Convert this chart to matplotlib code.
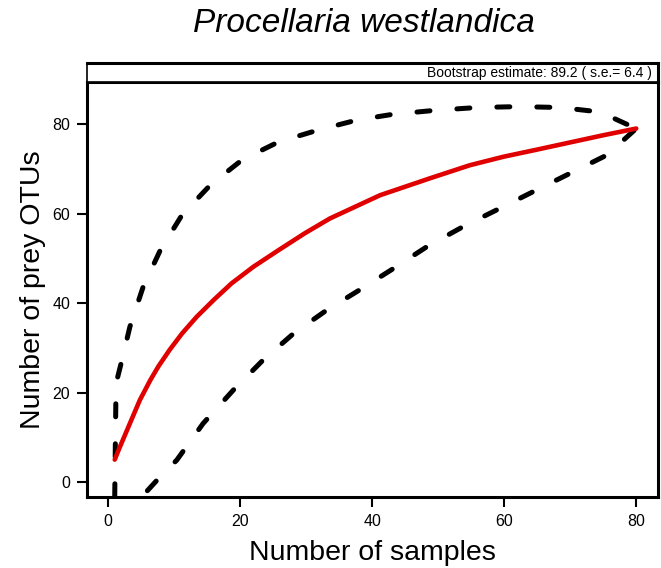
import matplotlib
matplotlib.use('Agg')
import matplotlib.pyplot as plt

plt.rcParams['font.family'] = ['Liberation Sans', 'DejaVu Sans']

samples_mean = [1, 1.8, 3.3, 4.8, 6.4, 7.6, 9.3, 11.2, 13.4, 16, 18.7, 22,
                25.8, 29.8, 33.6, 41.2, 48.8, 54.8, 59.9, 65, 70, 75, 80]
otus_mean = [5, 7.9, 13.1, 18.3, 22.8, 25.8, 29.5, 33.2, 36.9, 40.7, 44.4,
             48.1, 51.8, 55.6, 58.9, 64.1, 67.9, 70.8, 72.7, 74.3, 75.9, 77.5, 79]

# Upper confidence bound
samples_upper = [1, 1.2, 2.1, 3.3, 5.3, 7.9, 11.2, 15.5, 20.3, 25.8, 31.9, 37.7,
                 43.2, 49.8, 55.9, 62.2, 68.5, 74.5, 80]
otus_upper = [-3.3, 22, 27.3, 34.7, 43.6, 51.8, 59.7, 66.4, 72, 76, 78.7, 80.9,
              82.2, 83.1, 83.7, 83.9, 83.7, 82.7, 79]

# Lower confidence bound
samples_lower = [1, 5, 5.6, 7.4, 10.4, 14.4, 19, 23.5, 28.1, 33.1, 38.5, 43.2,
                 48.3, 53.8, 59.4, 64.4, 70, 75.6, 80]
otus_lower = [-4.6, -4.6, -2.5, 0.4, 4.9, 13.1, 20.6, 27.3, 33.2, 38.4, 43.3, 47.7,
              52.6, 57.1, 61.2, 64.9, 69, 73.1, 79]

x_ticks = [0, 20, 40, 60, 80]
y_ticks = [0, 20, 40, 60, 80]

title = 'Procellaria westlandica'
strip_text = 'Bootstrap estimate: 89.2 ( s.e.= 6.4 )'

fig = plt.figure(figsize=(6.61, 5.68), dpi=100)
ax = fig.add_axes([87 / 661, 71 / 568, 571 / 661, 415 / 568])
strip = fig.add_axes([87 / 661, 486 / 568, 571 / 661, 19 / 568])

dash_kw = dict(color='black', linewidth=3.6, dashes=(2.6, 5.4),
               dash_capstyle='round', solid_capstyle='round')
ax.plot(samples_upper, otus_upper, **dash_kw)
ax.plot(samples_lower, otus_lower, **dash_kw)
ax.plot(samples_mean, otus_mean, color='#E00000', linewidth=3.3,
        solid_capstyle='round', solid_joinstyle='round')

ax.set_xlim(-3.2, 83.3)
ax.set_ylim(-3.35, 89.4)
ax.set_xticks(x_ticks)
ax.set_yticks(y_ticks)
ax.tick_params(direction='out', length=7, width=1.5, labelsize=11.5,
               top=False, right=False, pad=5)
for side in ['left', 'bottom', 'right', 'top']:
    ax.spines[side].set_linewidth(2.2)
ax.set_xlabel('Number of samples', fontsize=20.5, labelpad=8)
ax.set_ylabel('Number of prey OTUs', fontsize=20.5, labelpad=5)

strip.set_xticks([])
strip.set_yticks([])
strip.set_xlim(0, 1)
strip.set_ylim(0, 1)
for side in ['left', 'bottom']:
    strip.spines[side].set_linewidth(1.2)
for side in ['right', 'top']:
    strip.spines[side].set_linewidth(2.2)
strip.text(0.99, 0.5, strip_text, ha='right', va='center', fontsize=10)

fig.text(364 / 661, 1 - 23 / 568, title, ha='center', va='center',
         fontsize=24, style='italic')

fig.savefig('out.png', dpi=100)
